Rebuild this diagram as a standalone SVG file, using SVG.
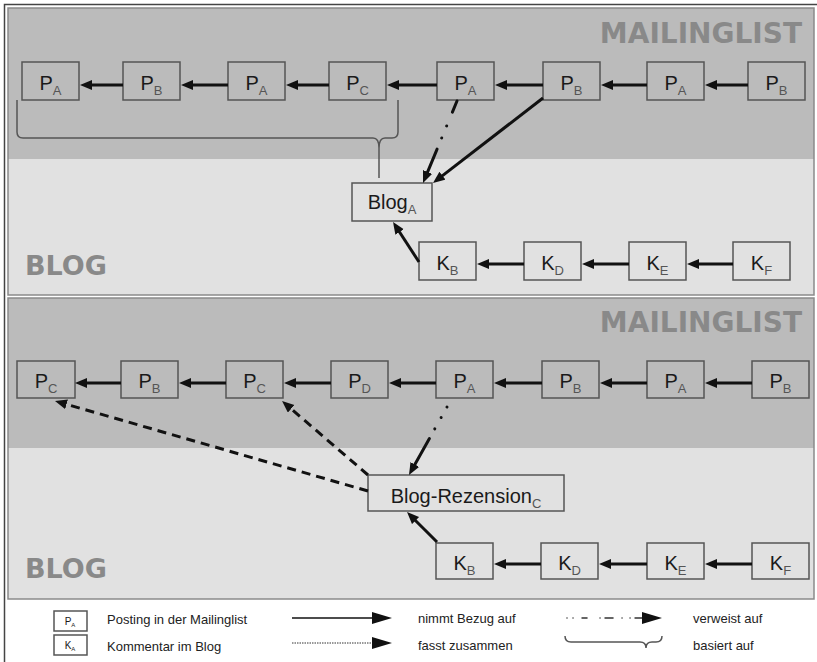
<svg xmlns="http://www.w3.org/2000/svg" width="817" height="662" viewBox="0 0 817 662">
<style>
.node rect{fill:none;stroke:#555;stroke-width:1.5}
.node text{font-family:"Liberation Sans",Arial,sans-serif;font-size:20px;fill:#1a1a1a;text-anchor:middle}
.node tspan.s{font-size:13px;fill:#555}
.big{font-family:"Liberation Sans",Arial,sans-serif;font-size:21px;fill:#1a1a1a;text-anchor:middle}
.lbl{font-family:"DejaVu Sans",sans-serif;font-weight:bold;fill:#898989}
.solid{stroke:#111;stroke-width:3;fill:none;marker-end:url(#ah)}
.dashed{stroke:#111;stroke-width:3;fill:none;stroke-dasharray:9 6;marker-end:url(#ah)}
.leg{font-family:"Liberation Sans",Arial,sans-serif;font-size:13px;fill:#222}
.brace{fill:none;stroke:#555;stroke-width:1.5}
</style>
<defs>
<marker id="ah" markerUnits="userSpaceOnUse" markerWidth="14" markerHeight="12" refX="4" refY="5" orient="auto">
<path d="M0,0 L12,5 L0,10 z" fill="#111"/>
</marker>
<marker id="lah" markerUnits="userSpaceOnUse" markerWidth="22" markerHeight="14" refX="1" refY="6" orient="auto">
<path d="M0,0 L20,6 L0,12 z" fill="#111"/>
</marker>
</defs>
<rect x="0" y="0" width="817" height="662" fill="#ffffff"/>
<path d="M4.5,662 V4.5 H817" fill="none" stroke="#444" stroke-width="1.5"/>
<!-- panel 1 -->
<g id="panel1">
<rect x="8" y="8" width="806" height="151" fill="#bbbbbb"/>
<rect x="8" y="159" width="806" height="136" fill="#e1e1e1"/>
<rect x="8" y="8" width="806" height="287" fill="none" stroke="#8a8a8a" stroke-width="1.5"/>
<text class="lbl" x="802" y="43" font-size="28" text-anchor="end">MAILINGLIST</text>
<text class="lbl" x="25" y="275" font-size="27">BLOG</text>
</g>
<!-- panel 2 -->
<g id="panel2">
<rect x="8" y="298" width="806" height="150" fill="#bbbbbb"/>
<rect x="8" y="448" width="806" height="151" fill="#e1e1e1"/>
<rect x="8" y="298" width="806" height="301" fill="none" stroke="#8a8a8a" stroke-width="1.5"/>
<text class="lbl" x="802" y="332" font-size="28" text-anchor="end">MAILINGLIST</text>
<text class="lbl" x="25" y="578" font-size="27">BLOG</text>
</g>

<!-- panel 1 nodes -->
<g id="t_p1" class="node"><rect x="22" y="62" width="57" height="38" stroke-width="2"/><text x="50.5" y="90">P<tspan class="s" dy="5">A</tspan></text></g>
<g id="t_p2" class="node"><rect x="123" y="62" width="57" height="38"/><text x="151.5" y="90">P<tspan class="s" dy="5">B</tspan></text></g>
<g id="t_p3" class="node"><rect x="228" y="62" width="57" height="38"/><text x="256.5" y="90">P<tspan class="s" dy="5">A</tspan></text></g>
<g id="t_p4" class="node"><rect x="329" y="62" width="57" height="38"/><text x="357.5" y="90">P<tspan class="s" dy="5">C</tspan></text></g>
<g id="t_p5" class="node"><rect x="437" y="62" width="57" height="38"/><text x="465.5" y="90">P<tspan class="s" dy="5">A</tspan></text></g>
<g id="t_p6" class="node"><rect x="543" y="62" width="57" height="38"/><text x="571.5" y="90">P<tspan class="s" dy="5">B</tspan></text></g>
<g id="t_p7" class="node"><rect x="647" y="62" width="57" height="38"/><text x="675.5" y="90">P<tspan class="s" dy="5">A</tspan></text></g>
<g id="t_p8" class="node"><rect x="748" y="62" width="57" height="38"/><text x="776.5" y="90">P<tspan class="s" dy="5">B</tspan></text></g>
<g id="t_blog" class="node"><rect x="352" y="183" width="80" height="38"/><text class="big" x="392" y="209">Blog<tspan class="s" dy="5">A</tspan></text></g>
<g id="t_k1" class="node"><rect x="419" y="242" width="57" height="38"/><text x="447.5" y="270">K<tspan class="s" dy="5">B</tspan></text></g>
<g id="t_k2" class="node"><rect x="524" y="242" width="57" height="38"/><text x="552.5" y="270">K<tspan class="s" dy="5">D</tspan></text></g>
<g id="t_k3" class="node"><rect x="629" y="242" width="57" height="38"/><text x="657.5" y="270">K<tspan class="s" dy="5">E</tspan></text></g>
<g id="t_k4" class="node"><rect x="733" y="242" width="57" height="38"/><text x="761.5" y="270">K<tspan class="s" dy="5">F</tspan></text></g>

<!-- panel 2 nodes -->
<g id="b_p1" class="node"><rect x="17" y="361" width="58" height="37" stroke-width="2"/><text x="46" y="388">P<tspan class="s" dy="5">C</tspan></text></g>
<g id="b_p2" class="node"><rect x="121" y="361" width="57" height="37"/><text x="149.5" y="388">P<tspan class="s" dy="5">B</tspan></text></g>
<g id="b_p3" class="node"><rect x="226" y="361" width="57" height="37"/><text x="254.5" y="388">P<tspan class="s" dy="5">C</tspan></text></g>
<g id="b_p4" class="node"><rect x="331" y="361" width="57" height="37"/><text x="359.5" y="388">P<tspan class="s" dy="5">D</tspan></text></g>
<g id="b_p5" class="node"><rect x="436" y="361" width="57" height="37"/><text x="464.5" y="388">P<tspan class="s" dy="5">A</tspan></text></g>
<g id="b_p6" class="node"><rect x="542" y="361" width="57" height="37"/><text x="570.5" y="388">P<tspan class="s" dy="5">B</tspan></text></g>
<g id="b_p7" class="node"><rect x="647" y="361" width="57" height="37"/><text x="675.5" y="388">P<tspan class="s" dy="5">A</tspan></text></g>
<g id="b_p8" class="node"><rect x="752" y="361" width="57" height="37"/><text x="780.5" y="388">P<tspan class="s" dy="5">B</tspan></text></g>
<g id="b_blog" class="node"><rect x="368" y="475" width="196" height="36"/><text class="big" x="466" y="503">Blog-Rezension<tspan class="s" dy="5">C</tspan></text></g>
<g id="b_k1" class="node"><rect x="436" y="543" width="57" height="36"/><text x="464.5" y="570">K<tspan class="s" dy="5">B</tspan></text></g>
<g id="b_k2" class="node"><rect x="541" y="543" width="57" height="36"/><text x="569.5" y="570">K<tspan class="s" dy="5">D</tspan></text></g>
<g id="b_k3" class="node"><rect x="647" y="543" width="57" height="36"/><text x="675.5" y="570">K<tspan class="s" dy="5">E</tspan></text></g>
<g id="b_k4" class="node"><rect x="752" y="543" width="57" height="36"/><text x="780.5" y="570">K<tspan class="s" dy="5">F</tspan></text></g>

<!-- connectors -->
<g id="connectors">
<line class="solid" x1="123" y1="85" x2="88" y2="85"/>
<line class="solid" x1="228" y1="85" x2="189" y2="85"/>
<line class="solid" x1="329" y1="85" x2="294" y2="85"/>
<line class="solid" x1="437" y1="85" x2="395" y2="85"/>
<line class="solid" x1="543" y1="85" x2="503" y2="85"/>
<line class="solid" x1="647" y1="85" x2="609" y2="85"/>
<line class="solid" x1="748" y1="85" x2="713" y2="85"/>
<line class="solid" x1="524" y1="264" x2="485" y2="264"/>
<line class="solid" x1="629" y1="264" x2="590" y2="264"/>
<line class="solid" x1="733" y1="264" x2="695" y2="264"/>
<line class="solid" x1="419" y1="262" x2="397.4" y2="228.7"/>
<line class="solid" x1="543" y1="98" x2="439.3" y2="178.1"/>
<line x1="457" y1="101" x2="426.1" y2="175.6" stroke="#111" stroke-width="3" stroke-linecap="round" stroke-dasharray="12 15 0.01 13 0.01 12 100" marker-end="url(#ah)"/>
<path class="brace" d="M17,100 V132 Q17,138 23,138 H373 Q379,138 379,148 V178 M379,148 Q379,138 385,138 H392 Q398,138 398,132 V100"/>

<line class="solid" x1="121" y1="383" x2="83" y2="383"/>
<line class="solid" x1="226" y1="383" x2="187" y2="383"/>
<line class="solid" x1="331" y1="383" x2="292" y2="383"/>
<line class="solid" x1="436" y1="383" x2="397" y2="383"/>
<line class="solid" x1="542" y1="383" x2="502" y2="383"/>
<line class="solid" x1="647" y1="383" x2="608" y2="383"/>
<line class="solid" x1="752" y1="383" x2="713" y2="383"/>
<line class="solid" x1="541" y1="564" x2="502" y2="564"/>
<line class="solid" x1="647" y1="564" x2="607" y2="564"/>
<line class="solid" x1="752" y1="564" x2="713" y2="564"/>
<line class="solid" x1="437" y1="542" x2="412.7" y2="517.7"/>
<line x1="447" y1="407" x2="412.9" y2="468" stroke="#111" stroke-width="3" stroke-linecap="round" stroke-dasharray="0.01 12 0.01 13 0.01 11 100" marker-end="url(#ah)"/>
<line class="dashed" x1="368" y1="491" x2="62.7" y2="403.2"/>
<line class="dashed" x1="368" y1="475" x2="288.1" y2="406.2"/>
</g>

<!-- legend -->
<g id="legend">
<g id="leg_p" class="node"><rect x="54" y="611" width="33" height="20" stroke-width="1"/><text x="70" y="625" style="font-size:10px">P<tspan dy="2" style="font-size:6px">A</tspan></text></g>
<g id="leg_k" class="node"><rect x="54" y="635" width="33" height="20" stroke-width="1"/><text x="70" y="649" style="font-size:10px">K<tspan dy="2" style="font-size:6px">A</tspan></text></g>
<text class="leg" x="107" y="624">Posting in der Mailinglist</text>
<text class="leg" x="107" y="651">Kommentar im Blog</text>
<line x1="292" y1="618" x2="373" y2="618" stroke="#111" stroke-width="1.5" marker-end="url(#lah)"/>
<line x1="292" y1="643" x2="373" y2="643" stroke="#333" stroke-width="1" stroke-dasharray="1.5 1" marker-end="url(#lah)"/>
<text class="leg" x="418" y="623">nimmt Bezug auf</text>
<text class="leg" x="418" y="650">fasst zusammen</text>
<line x1="567" y1="618" x2="643" y2="618" stroke="#333" stroke-width="1.5" stroke-linecap="round" stroke-dasharray="0.01 6 0.01 9 5 13 0.01 5 8 9 0.01 8 0.01 5 200" marker-end="url(#lah)"/>
<path class="brace" stroke-width="1.2" d="M565,636 Q565,642 571,642 H640 Q646,642 646,648 Q646,642 652,642 H656 Q662,642 662,636"/>
<text class="leg" x="693" y="623">verweist auf</text>
<text class="leg" x="693" y="650">basiert auf</text>
</g>
</svg>
